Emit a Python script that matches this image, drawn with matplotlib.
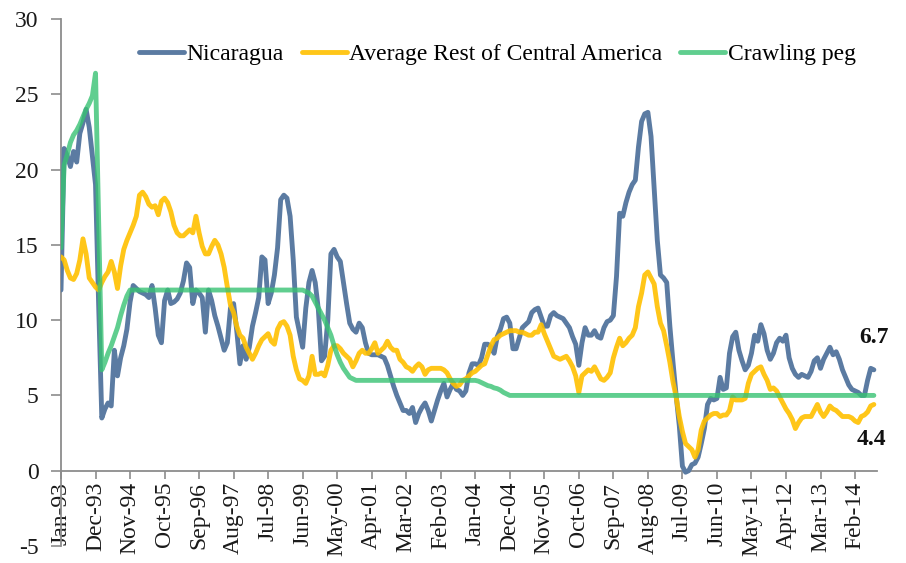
import matplotlib
matplotlib.use("Agg")
import matplotlib.pyplot as plt
import pandas as pd

plt.rcParams['font.family'] = ['Liberation Serif', 'DejaVu Serif']
plt.rcParams['axes.unicode_minus'] = False

dates = pd.date_range('1993-01-01', periods=260, freq='MS')
tick_labels = [d.strftime('%b-%y') for d in dates]

nicaragua = [
    12.0, 21.4, 20.9, 20.2, 21.2, 20.5, 22.4, 23.1, 24.0, 22.8, 20.9, 19.0,   # 1993
    11.0, 3.5, 4.1, 4.5, 4.3, 8.0, 6.3, 7.5, 8.3, 9.4, 11.2, 12.3,            # 1994
    12.1, 11.9, 11.8, 11.7, 11.5, 12.3, 10.8, 9.0, 8.5, 11.3, 12.0, 11.1,     # 1995
    11.2, 11.4, 11.8, 12.6, 13.8, 13.5, 11.1, 12.0, 11.8, 11.5, 9.2, 12.0,    # 1996
    11.3, 10.3, 9.6, 8.8, 8.0, 8.5, 10.8, 11.1, 9.3, 7.1, 8.3, 7.4,           # 1997
    8.2, 9.6, 10.5, 11.5, 14.2, 14.0, 11.1, 11.8, 13.0, 14.8, 18.0, 18.3,     # 1998
    18.1, 16.9, 14.0, 10.2, 9.2, 8.2, 10.8, 12.5, 13.3, 12.5, 10.7, 7.3,      # 1999
    7.6, 10.0, 14.4, 14.7, 14.2, 13.9, 12.5, 11.1, 9.8, 9.4, 9.2, 9.8,        # 2000
    9.5, 8.5, 7.8, 7.7, 7.7, 7.7, 7.6, 7.5, 7.0, 6.3, 5.6, 5.0,               # 2001
    4.5, 4.0, 4.0, 3.8, 4.2, 3.2, 3.8, 4.2, 4.5, 4.0, 3.3, 4.0,               # 2002
    4.7, 5.3, 5.8, 4.9, 5.4, 5.8, 5.4, 5.3, 5.0, 5.3, 6.5, 7.1,               # 2003
    7.1, 7.0, 7.5, 8.4, 8.4, 8.2, 7.8, 8.9, 9.4, 10.1, 10.2, 9.8,             # 2004
    8.1, 8.1, 8.8, 9.5, 9.7, 9.9, 10.5, 10.7, 10.8, 10.2, 9.6, 9.6,           # 2005
    10.3, 10.5, 10.3, 10.2, 10.1, 9.8, 9.5, 8.9, 8.4, 7.0, 8.5, 9.5,          # 2006
    9.0, 9.0, 9.3, 8.9, 8.8, 9.5, 9.9, 10.0, 10.3, 12.9, 17.1, 16.9,          # 2007
    17.8, 18.5, 19.0, 19.3, 21.5, 23.2, 23.7, 23.8, 22.2, 18.8, 15.3, 13.0,   # 2008
    12.8, 12.5, 9.6, 7.2, 5.0, 3.0, 0.3, -0.1, 0.0, 0.4, 0.5, 0.9,            # 2009
    1.8, 2.8, 4.4, 4.8, 4.7, 4.8, 6.2, 5.4, 5.5, 7.8, 8.9, 9.2,               # 2010
    8.0, 7.3, 6.7, 7.0, 7.8, 9.0, 8.6, 9.7, 9.1, 8.0, 7.4, 7.8,               # 2011
    8.5, 8.8, 8.6, 9.0, 7.5, 6.8, 6.4, 6.2, 6.4, 6.3, 6.2, 6.6,               # 2012
    7.3, 7.5, 6.8, 7.4, 7.8, 8.2, 7.7, 7.9, 7.4, 6.7, 6.2, 5.7,               # 2013
    5.4, 5.3, 5.2, 5.0, 5.0, 6.0, 6.8, 6.7,                                   # 2014
]

rest_central_america = [
    14.2, 14.0, 13.3, 12.8, 12.7, 13.1, 14.0, 15.4, 14.4, 12.8, 12.5, 12.2,   # 1993
    12.0, 12.5, 12.9, 13.2, 13.9, 13.2, 12.1, 13.6, 14.7, 15.3, 15.8, 16.3,   # 1994
    16.9, 18.3, 18.5, 18.2, 17.7, 17.5, 17.6, 17.0, 17.9, 18.1, 17.8, 17.2,   # 1995
    16.3, 15.8, 15.6, 15.6, 15.8, 16.0, 15.8, 16.9, 15.8, 14.9, 14.4, 14.4,   # 1996
    14.9, 15.3, 15.0, 14.4, 13.5, 12.2, 11.0, 10.5, 9.6, 9.0, 8.8, 8.2,       # 1997
    7.8, 7.4, 7.8, 8.3, 8.7, 8.9, 9.1, 8.6, 8.4, 9.4, 9.8, 9.9,               # 1998
    9.6, 9.0, 7.6, 6.7, 6.1, 6.0, 5.8, 6.3, 7.6, 6.4, 6.4, 6.5,               # 1999
    6.3, 7.0, 8.0, 8.3, 8.3, 8.1, 7.8, 7.6, 7.4, 6.9, 7.3, 7.8,               # 2000
    8.0, 7.8, 7.8, 8.1, 8.5, 7.8, 8.0, 8.2, 8.6, 8.2, 8.0, 8.0,               # 2001
    7.4, 7.2, 6.9, 6.8, 6.6, 6.9, 7.1, 6.9, 6.4, 6.7, 6.8, 6.8,               # 2002
    6.8, 6.8, 6.7, 6.5, 6.1, 5.8, 5.6, 5.7, 6.0, 6.1, 6.3, 6.5,               # 2003
    6.6, 6.8, 7.0, 7.1, 7.7, 8.3, 8.7, 8.8, 9.0, 9.1, 9.2, 9.3,               # 2004
    9.3, 9.3, 9.2, 9.2, 9.1, 9.0, 9.0, 9.2, 9.2, 9.7, 9.1, 8.6,               # 2005
    8.1, 7.6, 7.5, 7.4, 7.5, 7.6, 7.3, 6.9, 6.3, 5.2, 6.3, 6.5,               # 2006
    6.7, 6.6, 6.9, 6.5, 6.1, 6.0, 6.2, 6.5, 7.5, 8.2, 8.8, 8.3,               # 2007
    8.5, 8.8, 9.0, 9.5, 10.9, 11.8, 13.0, 13.2, 12.8, 12.4, 10.9, 9.8,        # 2008
    9.3, 8.3, 7.2, 5.9, 4.9, 3.6, 2.6, 1.8, 1.6, 1.4, 0.9, 1.4,               # 2009
    2.7, 3.3, 3.5, 3.7, 3.8, 3.8, 3.6, 3.7, 3.7, 4.0, 4.9, 4.7,               # 2010
    4.7, 4.7, 4.8, 5.8, 6.4, 6.6, 6.8, 6.9, 6.4, 6.0, 5.4, 5.5,               # 2011
    5.3, 4.9, 4.5, 4.1, 3.8, 3.4, 2.8, 3.2, 3.5, 3.6, 3.6, 3.6,               # 2012
    4.0, 4.4, 3.9, 3.6, 3.9, 4.3, 4.1, 4.0, 3.8, 3.6, 3.6, 3.6,               # 2013
    3.5, 3.3, 3.2, 3.6, 3.7, 3.9, 4.3, 4.4,                                   # 2014
]

crawling_peg = (
    [14.8, 20.3, 21.0, 21.8, 22.3, 22.6, 23.0, 23.5, 24.0, 24.4, 24.9, 26.4,
     16.5, 6.7, 7.2, 7.8, 8.3, 8.9, 9.5, 10.3, 11.0, 11.6, 12.0, 12.0]
    + [12.0] * 54
    + [11.9, 11.8, 11.6, 11.2, 10.8, 10.4, 10.0, 9.5, 9.0, 8.3, 7.7, 7.2,
       6.8, 6.5, 6.2, 6.1, 6.0]
    + [6.0] * 38
    + [5.95, 5.85, 5.75, 5.65, 5.6, 5.5, 5.45, 5.35, 5.2, 5.1, 5.0]
    + [5.0] * 116
)

series_names = ['Nicaragua', 'Average Rest of Central America', 'Crawling peg']

x = list(range(len(dates)))

fig = plt.figure(figsize=(9.06, 5.63), dpi=100)
ax = fig.add_axes([61 / 906, 1 - 546 / 563, (877 - 61) / 906, (546 - 19) / 563])

for s in ['top', 'right']:
    ax.spines[s].set_visible(False)
ax.spines['bottom'].set_position(('data', 0))
for s in ['left', 'bottom']:
    ax.spines[s].set_color('#8C8C8C')
    ax.spines[s].set_linewidth(1.3)

lw = 3.5
ax.plot(x, nicaragua, color='#5B7BA2', lw=lw, solid_capstyle='round',
        solid_joinstyle='round', label=series_names[0], zorder=3)
ax.plot(x, rest_central_america, color='#FFC000', lw=lw, alpha=0.9,
        solid_capstyle='round', solid_joinstyle='round',
        label=series_names[1], zorder=4)
ax.plot(x, crawling_peg, color='#38C273', lw=lw, alpha=0.8,
        solid_capstyle='round', solid_joinstyle='round',
        label=series_names[2], zorder=5)

ax.set_ylim(-5, 30)
ax.set_yticks(range(-5, 31, 5))
ax.set_xlim(0, 260)
tick_pos = list(range(0, len(dates), 11))
ax.set_xticks(tick_pos)
ax.set_xticklabels([tick_labels[i] for i in tick_pos])

ax.tick_params(axis='both', colors='#8C8C8C', labelcolor='#1A1A1A',
               labelsize=17, width=1.2, direction='out')
ax.tick_params(axis='y', length=7, pad=9)
ax.tick_params(axis='x', length=6, pad=2, labelrotation=90)

leg = ax.legend(loc='upper center', bbox_to_anchor=(0.535, 0.985), ncol=3,
                frameon=False, fontsize=17, handlelength=1.9,
                handletextpad=0.12, columnspacing=0.75, borderpad=0.2)

ax.annotate(f'{nicaragua[-1]:.1f}', xy=(x[-1], nicaragua[-1]),
            xytext=(0, 16), textcoords='offset points', ha='center',
            va='bottom', fontsize=17, fontweight='bold', color='#111111')
ax.annotate(f'{rest_central_america[-1]:.1f}', xy=(x[-1], rest_central_america[-1]),
            xytext=(-2, -18), textcoords='offset points', ha='center',
            va='top', fontsize=17, fontweight='bold', color='#111111')

fig.savefig('out.png', dpi=100)
